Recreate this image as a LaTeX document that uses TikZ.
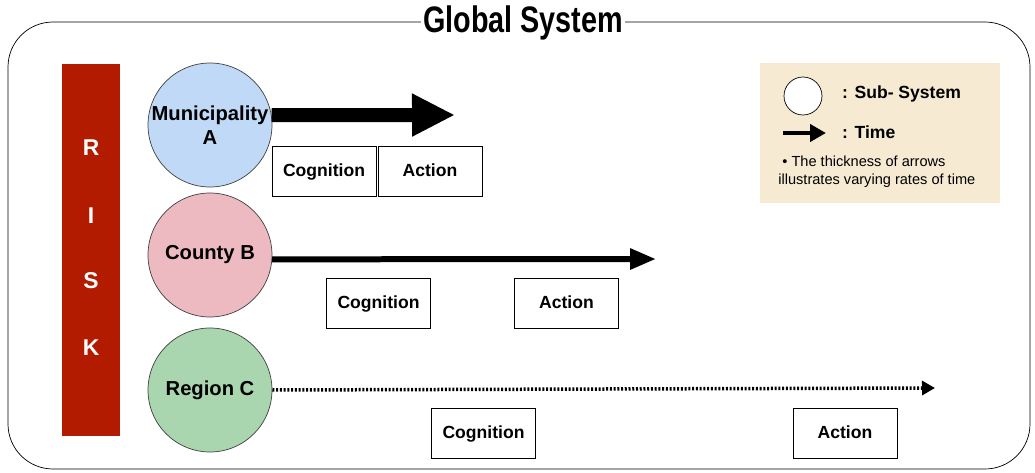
\documentclass[tikz,border=0pt]{standalone}
\usepackage{fontspec}
\setmainfont{Liberation Sans}
\usetikzlibrary{arrows.meta}
\definecolor{riskred}{HTML}{B31B00}
\definecolor{subblue}{HTML}{BFD9F6}
\definecolor{subpink}{HTML}{EDBAC1}
\definecolor{subgreen}{HTML}{A9D5AF}
\definecolor{legendbg}{HTML}{F6EBD2}

\begin{document}
\begin{tikzpicture}[x=0.02cm,y=-0.02cm]
	\tikzset{sub/.style = {shape=circle,draw=black!75,minimum size=2.48cm,inner sep=0pt,
			align=center,font=\bfseries\fontsize{11.5}{14}\selectfont}}
	\tikzset{phase/.style = {draw,minimum width=2.08cm,minimum height=1cm,
			text height=1.6ex,text depth=0.4ex,
			font=\bfseries\fontsize{10}{12}\selectfont}}
	\tikzset{letter/.style = {text=white,font=\bfseries\fontsize{13}{15}\selectfont}}
	\useasboundingbox (0,0) rectangle (1035,473);
	% frame
	\draw[rounded corners=0.9cm] (8,22) rectangle (1030,469);
	\node[fill=white,inner sep=1pt,font=\bfseries\fontsize{21}{24}\selectfont] (title) at (523,23)
		{\scalebox{0.78}[1]{Global System}};
	% risk bar
	\node[fill=riskred,minimum width=1.16cm,minimum height=7.44cm] (risk) at (91,250) {};
	\node[letter] (r) at (91,148) {R};
	\node[letter] (i) at (91,216) {I};
	\node[letter] (s) at (91,281) {S};
	\node[letter] (k) at (91,348) {K};
	% sub-systems
	\node[sub,fill=subblue] (ma) at (210,125) {Municipality\\A};
	\node[sub,fill=subpink] (cb) at (210,255) {County B};
	\node[sub,fill=subgreen] (rc) at (210,390) {Region C};
	% time arrows
	\coordinate (ta) at (455,115);
	\coordinate (tb) at (656,259);
	\coordinate (tc) at (935,388);
	\draw[line width=0.28cm,-{Triangle[length=0.86cm,width=0.8cm]}] (ma.9) -- (ta);
	\draw[line width=0.12cm,-{Triangle[length=0.52cm,width=0.4cm]}] (cb.-4) -- (tb);
	\draw[line width=0.07cm,dash pattern=on 0.04cm off 0.035cm,
		-{Triangle[length=0.26cm,width=0.28cm]}] (rc.east) -- (tc);
	% cognition and action
	\node[phase] (cogA) at (324,171) {Cognition};
	\node[phase] (actA) at (430,171) {Action};
	\node[phase] (cogB) at (378.5,303) {Cognition};
	\node[phase] (actB) at (566.5,303) {Action};
	\node[phase] (cogC) at (483.5,433) {Cognition};
	\node[phase] (actC) at (845,433) {Action};
	% legend
	\node[fill=legendbg,minimum width=4.8cm,minimum height=2.8cm] (legend) at (880,133) {};
	\node[shape=circle,draw,fill=white,minimum size=0.76cm] (lsub) at (803,96) {};
	\node[anchor=west,font=\bfseries\fontsize{10}{12}\selectfont] (lsubtext) at (836,94) {: Sub- System};
	\coordinate (lt1) at (783,133);
	\coordinate (lt2) at (826,133);
	\draw[line width=0.08cm,-{Triangle[length=0.32cm,width=0.34cm]}] (lt1) -- (lt2);
	\node[anchor=west,font=\bfseries\fontsize{10}{12}\selectfont] (ltimetext) at (836,132) {: Time};
	\node[anchor=north west,align=left,inner sep=0pt,font=\fontsize{8.3}{10}\selectfont] (lnote) at (778,156)
		{\ \textbullet\ The thickness of arrows\\illustrates varying rates of time};
\end{tikzpicture}
\end{document}
